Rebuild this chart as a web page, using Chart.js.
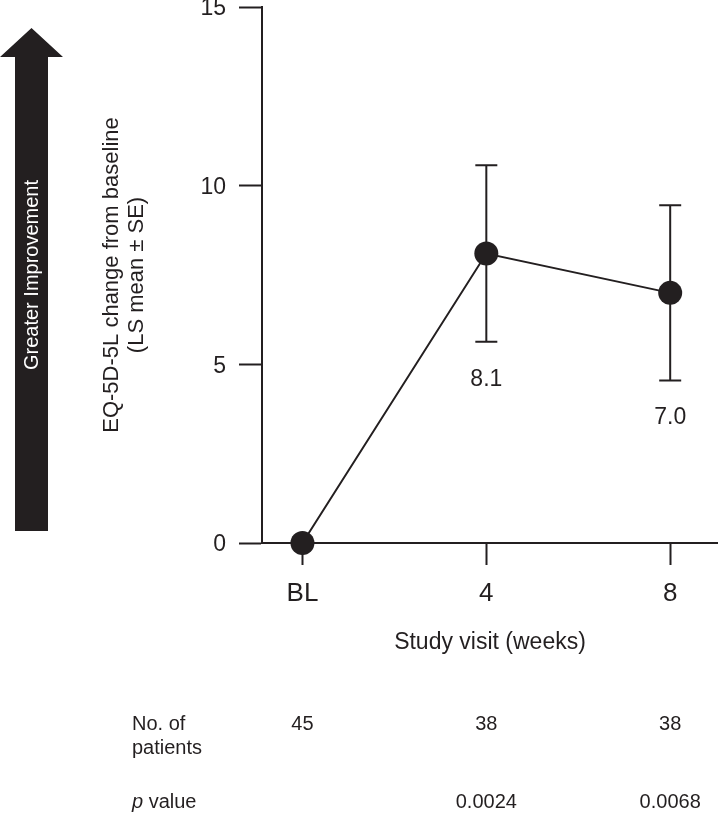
<!DOCTYPE html>
<html>
<head>
<meta charset="utf-8">
<script src="https://cdn.jsdelivr.net/npm/chart.js@4.4.1/dist/chart.umd.min.js"></script>
<style>
  html, body { margin: 0; padding: 0; background: #fff; overflow: hidden; }
  #eqChart { display: block; }
</style>
</head>
<body>
<canvas id="eqChart" width="718" height="814"></canvas>
<script>
// values
const visits = [0, 1, 2];
const visitLabels = ['BL', '4', '8'];
const lsMean = [0, 8.1, 7.0];
const stdErr = [0, 2.47, 2.45];
const patients = [45, 38, 38];
const pValues = ['', '0.0024', '0.0068'];
const yTicks = [0, 5, 10, 15];

const ink = '#231f20';
const fontFamily = "'Liberation Sans', Arial, Helvetica, sans-serif";

// vertical SE whiskers with caps, drawn under the markers
const errorBarPlugin = {
    id: 'errorBars',
    beforeDatasetsDraw(chart) {
        const { ctx, scales: { x, y } } = chart;
        ctx.save();
        ctx.strokeStyle = ink;
        ctx.lineWidth = 2;
        visits.forEach((v, i) => {
            if (!stdErr[i]) return;
            const px = x.getPixelForValue(v);
            const top = y.getPixelForValue(lsMean[i] + stdErr[i]);
            const bot = y.getPixelForValue(lsMean[i] - stdErr[i]);
            ctx.beginPath();
            ctx.moveTo(px, top); ctx.lineTo(px, bot);
            ctx.moveTo(px - 11, top); ctx.lineTo(px + 11, top);
            ctx.moveTo(px - 11, bot); ctx.lineTo(px + 11, bot);
            ctx.stroke();
        });
        ctx.restore();
    }
};

// mean value written under the lower whisker
const valueLabelPlugin = {
    id: 'valueLabels',
    afterDatasetsDraw(chart) {
        const { ctx, scales: { x, y } } = chart;
        ctx.save();
        ctx.fillStyle = ink;
        ctx.font = `23px ${fontFamily}`;
        ctx.textAlign = 'center';
        ctx.textBaseline = 'alphabetic';
        visits.forEach((v, i) => {
            if (!stdErr[i]) return;
            const px = x.getPixelForValue(v);
            const bot = y.getPixelForValue(lsMean[i] - stdErr[i]);
            ctx.fillText(lsMean[i].toFixed(1), px, bot + 44);
        });
        ctx.restore();
    }
};

// "Greater Improvement" arrow on the left
const arrowPlugin = {
    id: 'arrow',
    afterDraw(chart) {
        const ctx = chart.ctx;
        ctx.save();
        ctx.fillStyle = ink;
        ctx.beginPath();
        ctx.moveTo(31.5, 28);
        ctx.lineTo(63, 57);
        ctx.lineTo(48, 57);
        ctx.lineTo(48, 531);
        ctx.lineTo(15, 531);
        ctx.lineTo(15, 57);
        ctx.lineTo(0, 57);
        ctx.closePath();
        ctx.fill();
        ctx.translate(32, 275);
        ctx.rotate(-Math.PI / 2);
        ctx.fillStyle = '#ffffff';
        ctx.font = `20px ${fontFamily}`;
        ctx.textAlign = 'center';
        ctx.textBaseline = 'middle';
        ctx.fillText('Greater Improvement', 0, 0);
        ctx.restore();
    }
};

// patient numbers and p values under the axis
const tablePlugin = {
    id: 'patientTable',
    afterDraw(chart) {
        const { ctx, scales: { x } } = chart;
        ctx.save();
        ctx.fillStyle = ink;
        ctx.textBaseline = 'alphabetic';
        ctx.textAlign = 'left';
        ctx.font = `20px ${fontFamily}`;
        ctx.fillText('No. of', 132, 730);
        ctx.fillText('patients', 132, 754);
        ctx.font = `italic 20px ${fontFamily}`;
        ctx.fillText('p', 132, 808);
        const pw = ctx.measureText('p').width;
        ctx.font = `20px ${fontFamily}`;
        ctx.fillText(' value', 132 + pw, 808);
        ctx.textAlign = 'center';
        visits.forEach((v, i) => {
            const px = x.getPixelForValue(v);
            ctx.fillText(String(patients[i]), px, 730);
            if (pValues[i]) ctx.fillText(pValues[i], px, 808);
        });
        ctx.restore();
    }
};

const ctx = document.getElementById('eqChart').getContext('2d');

new Chart(ctx, {
    type: 'line',
    data: {
        datasets: [{
            data: visits.map((v, i) => ({ x: v, y: lsMean[i] })),
            borderColor: ink,
            borderWidth: 2,
            pointRadius: 12,
            pointHoverRadius: 12,
            pointBackgroundColor: ink,
            pointBorderWidth: 0,
            tension: 0,
            clip: false
        }]
    },
    options: {
        responsive: false,
        animation: false,
        layout: { autoPadding: false, padding: { top: 7, right: 0, bottom: 0, left: 0 } },
        plugins: {
            legend: { display: false },
            tooltip: { enabled: false }
        },
        scales: {
            x: {
                type: 'linear',
                min: -0.22,
                max: 2.26,
                afterBuildTicks: (scale) => { scale.ticks = visits.map(v => ({ value: v })); },
                afterFit: (scale) => {
                    scale.height = 271;
                    scale.paddingLeft = 0;
                    scale.paddingRight = 0;
                },
                border: { display: true, color: ink, width: 2 },
                grid: {
                    drawOnChartArea: false,
                    drawTicks: true,
                    tickLength: 22,
                    tickColor: ink,
                    tickWidth: 2
                },
                ticks: {
                    color: ink,
                    padding: 13,
                    font: { family: fontFamily, size: 26 },
                    callback: (value) => visitLabels[visits.indexOf(value)]
                },
                title: {
                    display: true,
                    text: 'Study visit (weeks)',
                    color: ink,
                    font: { family: fontFamily, size: 23 },
                    padding: { top: 0, bottom: 158 }
                }
            },
            y: {
                min: 0,
                max: 15,
                afterBuildTicks: (scale) => { scale.ticks = yTicks.map(v => ({ value: v })); },
                afterFit: (scale) => {
                    scale.width = 262;
                    scale.paddingTop = 0;
                    scale.paddingBottom = 0;
                },
                border: { display: true, color: ink, width: 2 },
                grid: {
                    drawOnChartArea: false,
                    drawTicks: true,
                    tickLength: 23,
                    tickColor: ink,
                    tickWidth: 2
                },
                ticks: {
                    color: ink,
                    padding: 13,
                    labelOffset: 2,
                    font: { family: fontFamily, size: 23 }
                },
                title: {
                    display: true,
                    text: ['EQ-5D-5L change from baseline', '(LS mean \u00b1 SE)'],
                    color: ink,
                    font: { family: fontFamily, size: 22, lineHeight: 1.15 },
                    padding: { top: 99, bottom: 0 }
                }
            }
        }
    },
    plugins: [errorBarPlugin, valueLabelPlugin, arrowPlugin, tablePlugin]
});
</script>
</body>
</html>
